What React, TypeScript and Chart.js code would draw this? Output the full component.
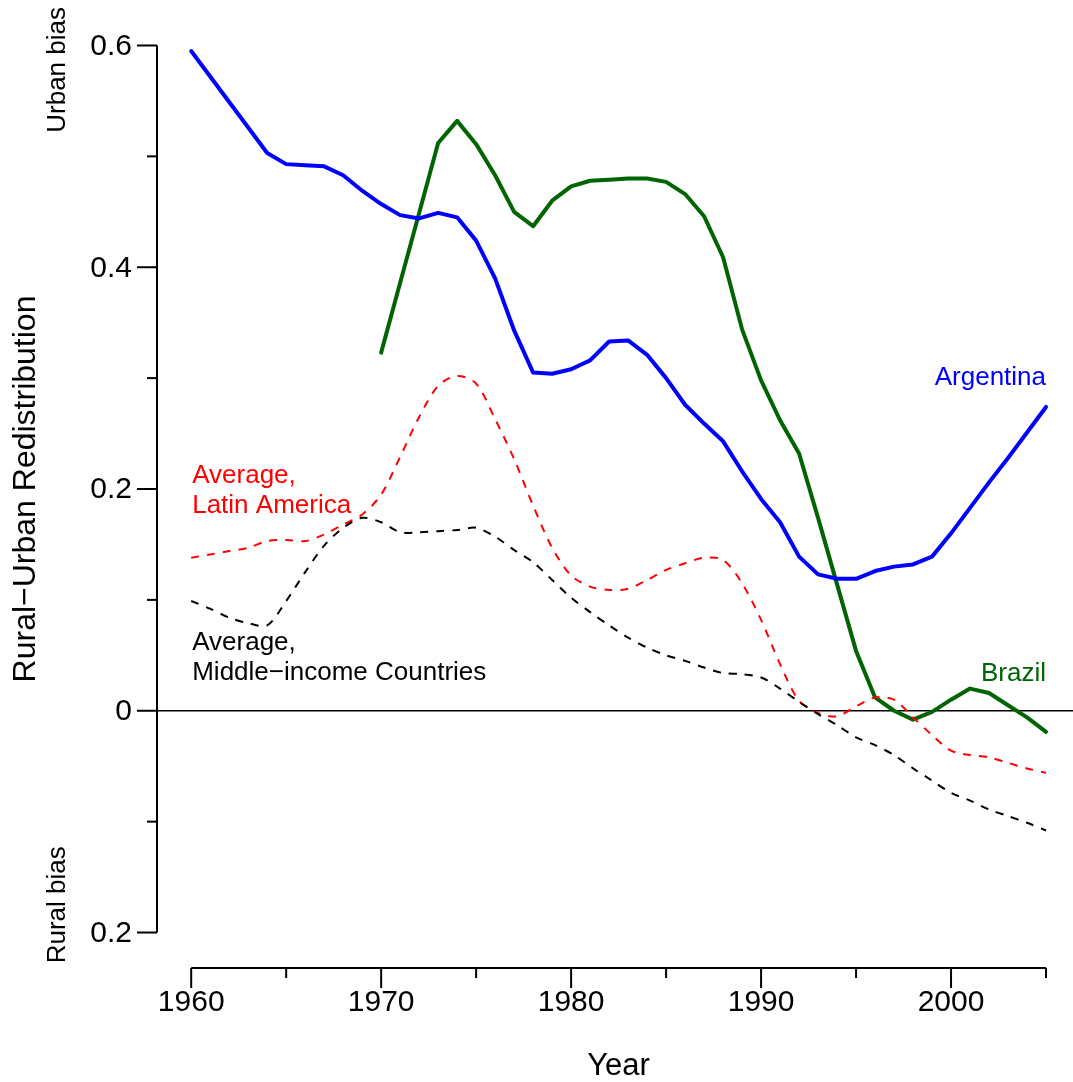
import React, { useEffect, useRef } from "react";
import { Chart, registerables } from "chart.js";

Chart.register(...registerables);

const years = [
  1960, 1961, 1962, 1963, 1964, 1965, 1966, 1967, 1968, 1969,
  1970, 1971, 1972, 1973, 1974, 1975, 1976, 1977, 1978, 1979,
  1980, 1981, 1982, 1983, 1984, 1985, 1986, 1987, 1988, 1989,
  1990, 1991, 1992, 1993, 1994, 1995, 1996, 1997, 1998, 1999,
  2000, 2001, 2002, 2003, 2004, 2005,
];

const argentina = [
  0.595, 0.572, 0.549, 0.526, 0.503, 0.493, 0.492, 0.491, 0.483, 0.469,
  0.457, 0.447, 0.444, 0.449, 0.445, 0.424, 0.390, 0.343, 0.305, 0.304,
  0.308, 0.316, 0.333, 0.334, 0.321, 0.300, 0.276, 0.259, 0.243, 0.216,
  0.191, 0.170, 0.139, 0.123, 0.119, 0.119, 0.126, 0.130, 0.132, 0.139,
  0.160, 0.183, 0.206, 0.228, 0.251, 0.274,
];

const brazil = [
  null, null, null, null, null, null, null, null, null, null,
  0.323, 0.386, 0.449, 0.512, 0.532, 0.511, 0.483, 0.450, 0.437, 0.460,
  0.473, 0.478, 0.479, 0.480, 0.480, 0.477, 0.466, 0.446, 0.409, 0.344,
  0.298, 0.262, 0.232, 0.174, 0.114, 0.054, 0.012, 0.000, -0.008, -0.001,
  0.010, 0.020, 0.016, 0.005, -0.006, -0.019,
];

const avgLatinAmerica = [
  0.138, 0.141, 0.144, 0.147, 0.153, 0.154, 0.153, 0.159, 0.168, 0.177,
  0.195, 0.229, 0.265, 0.293, 0.302, 0.295, 0.263, 0.227, 0.185, 0.147,
  0.122, 0.112, 0.109, 0.110, 0.118, 0.127, 0.133, 0.138, 0.136, 0.115,
  0.082, 0.042, 0.009, -0.002, -0.005, 0.004, 0.012, 0.010, -0.006, -0.022,
  -0.036, -0.040, -0.042, -0.047, -0.052, -0.056,
];

const avgMiddleIncome = [
  0.099, 0.092, 0.084, 0.079, 0.077, 0.099, 0.125, 0.149, 0.165, 0.174,
  0.170, 0.161, 0.161, 0.162, 0.163, 0.165, 0.157, 0.145, 0.134, 0.118,
  0.102, 0.089, 0.077, 0.066, 0.057, 0.050, 0.045, 0.039, 0.034, 0.033,
  0.030, 0.020, 0.008, -0.003, -0.013, -0.024, -0.031, -0.040, -0.052, -0.063,
  -0.074, -0.081, -0.089, -0.095, -0.101, -0.108,
];

const xTickValues = [1960, 1965, 1970, 1975, 1980, 1985, 1990, 1995, 2000, 2005];
const xTickLabels = ["1960", "", "1970", "", "1980", "", "1990", "", "2000", ""];
const yTickValues = [0.6, 0.5, 0.4, 0.3, 0.2, 0.1, 0, -0.1, -0.2];
const yTickLabels = ["0.6", "", "0.4", "", "0.2", "", "0", "", "0.2"];

const seriesLabels = [
  { text: ["Argentina"], x: 2005, y: 0.294, color: "#0000FF", align: "right" },
  { text: ["Brazil"], x: 2005, y: 0.027, color: "#006400", align: "right" },
  { text: ["Average,", "Latin America"], x: 1960, y: 0.2055, color: "#FF0000", align: "left" },
  { text: ["Average,", "Middle\u2212income Countries"], x: 1960, y: 0.0545, color: "#000000", align: "left" },
];

const sideLabels = [
  { text: "Urban bias", y: 0.578 },
  { text: "Rural bias", y: -0.175 },
];

const FONT = '"Liberation Sans", Arial, Helvetica, sans-serif';

const axesPlugin = {
  id: "rAxes",
  beforeDatasetsDraw(chart: any) {
    const { ctx, chartArea, scales } = chart;
    const y0 = scales.y.getPixelForValue(0);
    ctx.save();
    ctx.strokeStyle = "#000";
    ctx.lineWidth = 1.5;
    ctx.beginPath();
    ctx.moveTo(chartArea.left, y0);
    ctx.lineTo(chartArea.right, y0);
    ctx.stroke();
    ctx.restore();
  },
  afterDraw(chart: any) {
    const { ctx, chartArea, scales } = chart;
    const xs = scales.x;
    const ys = scales.y;
    ctx.save();
    ctx.strokeStyle = "#000";
    ctx.fillStyle = "#000";
    ctx.lineWidth = 2;
    ctx.lineCap = "butt";

    // y axis
    const ax = chartArea.left;
    ctx.beginPath();
    ctx.moveTo(ax, ys.getPixelForValue(yTickValues[0]));
    ctx.lineTo(ax, ys.getPixelForValue(yTickValues[yTickValues.length - 1]));
    ctx.stroke();
    ctx.font = `30px ${FONT}`;
    ctx.textAlign = "right";
    ctx.textBaseline = "middle";
    yTickValues.forEach((v, i) => {
      const py = ys.getPixelForValue(v);
      const len = yTickLabels[i] ? 20 : 10;
      ctx.beginPath();
      ctx.moveTo(ax, py);
      ctx.lineTo(ax - len, py);
      ctx.stroke();
      if (yTickLabels[i]) ctx.fillText(yTickLabels[i], ax - 25, py + 1);
    });

    // x axis
    const ay = chartArea.bottom;
    ctx.beginPath();
    ctx.moveTo(xs.getPixelForValue(xTickValues[0]), ay);
    ctx.lineTo(xs.getPixelForValue(xTickValues[xTickValues.length - 1]), ay);
    ctx.stroke();
    ctx.textAlign = "center";
    ctx.textBaseline = "alphabetic";
    xTickValues.forEach((v, i) => {
      const px = xs.getPixelForValue(v);
      const len = xTickLabels[i] ? 20 : 10;
      ctx.beginPath();
      ctx.moveTo(px, ay);
      ctx.lineTo(px, ay + len);
      ctx.stroke();
      if (xTickLabels[i]) ctx.fillText(xTickLabels[i], px, ay + 43);
    });

    // axis titles
    ctx.font = `31px ${FONT}`;
    ctx.textAlign = "center";
    ctx.fillText("Year", (chartArea.left + xs.getPixelForValue(2006.8)) / 2, ay + 107);
    ctx.save();
    ctx.translate(35, (chartArea.top + chartArea.bottom) / 2);
    ctx.rotate(-Math.PI / 2);
    ctx.font = `32px ${FONT}`;
    ctx.fillText("Rural\u2212Urban Redistribution", 0, 0);
    ctx.restore();

    ctx.font = `26px ${FONT}`;
    sideLabels.forEach((s) => {
      ctx.save();
      ctx.translate(65, ys.getPixelForValue(s.y));
      ctx.rotate(-Math.PI / 2);
      ctx.textAlign = "center";
      ctx.fillText(s.text, 0, 0);
      ctx.restore();
    });

    // series labels
    ctx.font = `26px ${FONT}`;
    seriesLabels.forEach((l) => {
      ctx.fillStyle = l.color;
      ctx.textAlign = l.align as CanvasTextAlign;
      const px = xs.getPixelForValue(l.x) + (l.align === "left" ? 1 : 0);
      const py = ys.getPixelForValue(l.y);
      l.text.forEach((t, k) => ctx.fillText(t, px, py + k * 30));
    });
    ctx.restore();
  },
};

export default function App() {
  const canvasRef = useRef<HTMLCanvasElement | null>(null);

  useEffect(() => {
    const canvas = canvasRef.current;
    if (!canvas) return;
    const mk = (vals: (number | null)[]) => years.map((x, i) => ({ x, y: vals[i] }));
    const chart = new Chart(canvas, {
      type: "line",
      data: {
        datasets: [
          {
            label: "Average, Middle-income Countries",
            data: mk(avgMiddleIncome),
            borderColor: "#000000",
            borderWidth: 2,
            borderDash: [8, 8],
            borderCapStyle: "butt",
            tension: 0.3,
            pointRadius: 0,
          },
          {
            label: "Average, Latin America",
            data: mk(avgLatinAmerica),
            borderColor: "#FF0000",
            borderWidth: 2,
            borderDash: [8, 8],
            borderCapStyle: "butt",
            tension: 0.3,
            pointRadius: 0,
          },
          {
            label: "Argentina",
            data: mk(argentina),
            borderColor: "#0000FF",
            borderWidth: 4,
            borderJoinStyle: "round",
            borderCapStyle: "round",
            tension: 0,
            pointRadius: 0,
          },
          {
            label: "Brazil",
            data: mk(brazil),
            borderColor: "#006400",
            borderWidth: 4,
            borderJoinStyle: "round",
            borderCapStyle: "round",
            tension: 0,
            pointRadius: 0,
            spanGaps: false,
          },
        ],
      },
      options: {
        animation: false,
        responsive: false,
        devicePixelRatio: 1,
        layout: { padding: { left: 157, right: 0, top: 10, bottom: 114 } },
        plugins: { legend: { display: false }, tooltip: { enabled: false } },
        scales: {
          x: { type: "linear", min: 1958.2, max: 2006.42, display: false },
          y: { type: "linear", min: -0.232, max: 0.632, display: false },
        },
      },
      plugins: [axesPlugin],
    });
    return () => chart.destroy();
  }, []);

  return (
    <canvas
      ref={canvasRef}
      width={1073}
      height={1082}
      style={{ position: "fixed", left: 0, top: 0, width: 1073, height: 1082, background: "#fff" }}
    />
  );
}
